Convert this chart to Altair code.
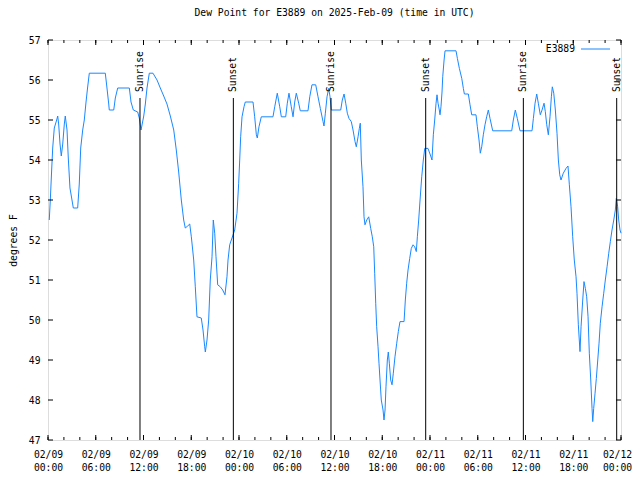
import altair as alt
import pandas as pd

# Dew point readings: hours since 2025-02-09 00:00 UTC, degrees F
hours = [0.16,0.29,0.46,0.59,0.79,1.09,1.22,1.34,1.51,1.67,1.85,2.05,2.17,2.39,2.55,2.76,2.93,3.18,3.73,3.93,
         4.11,4.36,4.56,4.78,4.94,5.19,7.20,7.41,7.63,7.70,8.26,8.46,8.76,10.22,10.43,10.72,11.27,11.47,11.69,
         12.03,12.23,12.44,12.73,13.19,13.70,14.11,14.54,14.95,15.37,15.80,16.12,16.42,16.75,17.05,17.25,17.55,
         17.81,18.01,18.31,18.51,18.72,19.26,19.48,19.69,19.77,19.98,20.19,20.39,20.61,20.77,20.95,21.11,21.32,
         21.65,21.95,22.24,22.49,22.62,22.83,23.12,23.46,23.75,23.96,24.09,24.21,24.38,24.63,24.79,25.76,25.97,
         26.18,26.30,26.51,26.80,28.27,28.49,28.81,29.12,29.32,29.87,30.07,30.28,30.57,30.79,31.00,31.20,31.50,
         31.70,32.67,32.89,33.17,33.64,33.93,34.22,34.56,34.68,34.85,35.06,35.27,35.44,35.60,36.78,36.98,37.20,
         37.41,37.61,37.82,38.11,38.33,38.58,38.74,38.96,39.12,39.24,39.37,39.58,39.71,39.83,40.05,40.30,40.55,
         40.75,40.93,41.05,41.18,41.30,41.47,41.59,41.72,41.88,42.10,42.22,42.35,42.47,42.64,42.76,42.89,43.06,
         43.23,43.39,43.60,43.82,44.02,44.23,44.74,44.90,45.07,45.24,45.45,45.65,45.87,46.08,46.28,46.41,46.58,
         46.75,46.96,47.16,47.34,47.75,48.09,48.25,48.42,48.59,48.76,48.88,49.01,49.17,49.26,49.38,49.51,49.60,
         49.77,49.89,51.27,51.44,51.69,51.99,52.19,52.32,52.82,53.03,53.24,53.78,53.95,54.16,54.32,54.50,54.70,
         54.91,55.12,55.33,55.54,55.88,58.27,58.47,58.72,58.97,59.31,60.82,60.99,61.20,61.41,61.61,61.86,62.08,
         62.33,62.49,62.67,62.87,63.08,63.25,63.37,63.55,63.75,63.96,64.13,64.30,64.46,64.75,65.09,65.34,65.51,
         65.72,65.93,66.13,66.35,66.47,66.64,66.85,66.98,67.19,67.35,67.52,67.69,67.86,68.02,68.20,68.36,68.45,
         68.57,68.74,68.90,69.08,69.24,69.40,69.62,69.83,70.03,70.25,70.46,70.66,70.87,71.09,71.29,71.41,71.58,
         71.71,71.88,72.0]
dew = [52.5,53.0,53.75,54.3,54.8,55.0,55.1,54.9,54.4,54.1,54.4,54.9,55.1,54.75,54.05,53.3,53.1,52.8,52.8,53.4,
       54.3,54.75,55.0,55.45,55.75,56.17,56.17,55.8,55.4,55.25,55.25,55.55,55.8,55.8,55.45,55.25,55.2,55.05,54.75,
       55.1,55.4,55.8,56.17,56.17,56.0,55.8,55.6,55.4,55.1,54.75,54.25,53.7,53.0,52.5,52.3,52.35,
       52.4,52.08,51.5,50.83,50.08,50.05,49.75,49.33,49.2,49.5,50.0,51.0,51.58,52.5,52.17,51.58,50.88,
       50.83,50.75,50.63,51.08,51.5,51.88,52.05,52.25,52.67,53.42,54.0,54.58,55.08,55.33,55.45,55.45,55.08,
       54.63,54.55,54.83,55.08,55.08,55.33,55.67,55.33,55.08,55.08,55.42,55.67,55.33,55.08,55.45,55.67,55.42,
       55.23,55.23,55.58,55.88,55.88,55.58,55.29,54.96,54.85,55.17,55.58,55.79,55.58,55.25,55.25,55.5,55.65,
       55.42,55.17,55.04,54.96,54.75,54.46,54.33,54.58,54.79,54.92,54.0,53.33,52.58,52.38,52.5,52.58,52.29,
       52.08,51.83,51.17,50.42,49.83,49.33,48.92,48.5,48.0,47.75,47.5,47.75,48.33,49.0,49.2,48.92,48.5,
       48.38,48.67,49.08,49.42,49.71,49.96,49.96,50.5,50.92,51.25,51.54,51.79,51.88,51.83,51.71,52.08,52.5,
       53.0,53.58,54.0,54.29,54.29,54.1,54.0,54.63,55.0,55.42,55.63,55.42,55.25,55.13,55.33,55.7,56.08,
       56.5,56.73,56.73,56.54,56.29,56.04,55.79,55.65,55.65,55.38,55.13,55.13,54.83,54.5,54.17,54.33,54.63,
       54.88,55.08,55.25,55.04,54.73,54.73,55.0,55.25,55.04,54.73,54.73,55.04,55.42,55.65,55.42,55.13,55.25,
       55.42,55.21,54.88,54.63,55.08,55.58,55.83,55.67,55.25,54.67,54.0,53.63,53.5,53.67,53.79,53.85,53.38,
       52.83,52.08,51.5,51.08,50.67,49.88,49.21,49.83,50.5,50.96,50.79,50.58,50.08,49.17,48.5,47.79,47.46,
       47.79,48.17,48.54,49.0,49.42,49.92,50.33,50.67,51.0,51.33,51.67,51.96,52.25,52.5,52.75,53.04,52.83,
       52.5,52.25,52.17]

sun_hours = [11.56, 23.29, 35.56, 47.46, 59.73, 71.46]
sun_labels = ["Sunrise", "Sunset", "Sunrise", "Sunset", "Sunrise", "Sunset"]

x_major = [0, 6, 12, 18, 24, 30, 36, 42, 48, 54, 60, 66, 72]
x_minor = list(range(0, 73, 2))
date_labels = ["02/09", "02/09", "02/09", "02/09", "02/10", "02/10", "02/10", "02/10",
               "02/11", "02/11", "02/11", "02/11", "02/12"]
time_labels = ["00:00", "06:00", "12:00", "18:00"] * 3 + ["00:00"]
y_ticks = [47, 48, 49, 50, 51, 52, 53, 54, 55, 56, 57]

FONT = "DejaVu Sans Mono"
FS = 9.7
W, H = 573, 400
LINE = "#1a88ff"

df = pd.DataFrame({"hour": hours, "dew": dew})
sun = pd.DataFrame({"hour": sun_hours, "label": sun_labels})
xmaj = pd.DataFrame({"hour": x_major})
xmin = pd.DataFrame({"hour": x_minor})
yt = pd.DataFrame({"dew": y_ticks})

xscale = alt.Scale(domain=[0, 72], nice=False, zero=False)
yscale = alt.Scale(domain=[47, 57], nice=False, zero=False)

date_js = "[" + ",".join("'%s'" % s for s in date_labels) + "]"
time_js = "[" + ",".join("'%s'" % s for s in time_labels) + "]"
label_expr = "[%s[round(datum.value/6)], %s[round(datum.value/6)]]" % (date_js, time_js)

X_AXIS = alt.Axis(values=x_major, labelExpr=label_expr, ticks=False, domain=False, grid=False,
                  labelFont=FONT, labelFontSize=FS, labelColor="black", labelPadding=9,
                  labelBaseline="top", labelLineHeight=13, labelOverlap=False,
                  labelFlush=False, labelBound=False, title=None,
                  labelOffset={"expr": "datum.value >= 72 ? -4 : 0"})
Y_AXIS = alt.Axis(values=y_ticks, format="d", ticks=False, domain=False, grid=False,
                  labelFont=FONT, labelFontSize=FS, labelColor="black", labelPadding=8,
                  title="degrees F",
                  titleFont=FONT, titleFontSize=FS, titleFontWeight="normal", titleColor="black",
                  titleX=-35, titleY=200, titleAngle=270, titleAlign="center",
                  titleBaseline="middle")


def xenc():
    return alt.X("hour:Q", scale=xscale, axis=X_AXIS)


def yenc():
    return alt.Y("dew:Q", scale=yscale, axis=Y_AXIS)


line = alt.Chart(df).mark_line(color=LINE, strokeWidth=1).encode(x=xenc(), y=yenc())

sun_rules = alt.Chart(sun).mark_rule(color="black", strokeWidth=1).encode(
    x=xenc(), y=alt.value(58), y2=alt.value(H),
)
sun_text = alt.Chart(sun).mark_text(font=FONT, fontSize=FS, angle=270, align="left",
                                    baseline="middle", color="black").encode(
    x=xenc(), y=alt.value(52), text="label:N",
)

tick_color = "black"
bot_major = alt.Chart(xmaj).mark_rule(color=tick_color).encode(
    x=xenc(), y=alt.value(H), y2=alt.value(H - 5))
top_major = alt.Chart(xmaj).mark_rule(color=tick_color).encode(
    x=xenc(), y=alt.value(0), y2=alt.value(5))
bot_minor = alt.Chart(xmin).mark_rule(color=tick_color).encode(
    x=xenc(), y=alt.value(H), y2=alt.value(H - 3))
top_minor = alt.Chart(xmin).mark_rule(color=tick_color).encode(
    x=xenc(), y=alt.value(0), y2=alt.value(3))
left_t = alt.Chart(yt).mark_rule(color=tick_color).encode(
    y=yenc(), x=alt.value(0), x2=alt.value(5))
right_t = alt.Chart(yt).mark_rule(color=tick_color).encode(
    y=yenc(), x=alt.value(W), x2=alt.value(W - 5))

leg = pd.DataFrame({"label": ["E3889"]})
leg_text = alt.Chart(leg).mark_text(font=FONT, fontSize=FS, align="right", baseline="middle",
                                    color="black").encode(
    x=alt.value(527), y=alt.value(9), text="label:N")
leg_line = alt.Chart(leg).mark_rule(color=LINE, strokeWidth=1).encode(
    x=alt.value(533), x2=alt.value(562), y=alt.value(9))

chart = alt.layer(
    line, sun_rules, sun_text, bot_minor, top_minor, bot_major, top_major, left_t, right_t,
    leg_text, leg_line,
).properties(
    width=W, height=H,
    title=alt.TitleParams("Dew Point for E3889 on 2025-Feb-09 (time in UTC)", font=FONT, fontSize=FS,
                          fontWeight="normal", color="black", anchor="middle", offset=17),
    autosize=alt.AutoSizeParams(type="none"),
    padding={"left": 40, "top": 32, "right": 11, "bottom": 32},
).configure_view(stroke="black", strokeWidth=1).configure(background="white")

chart.save("out.html", embed_options={"renderer": "svg", "actions": False})
